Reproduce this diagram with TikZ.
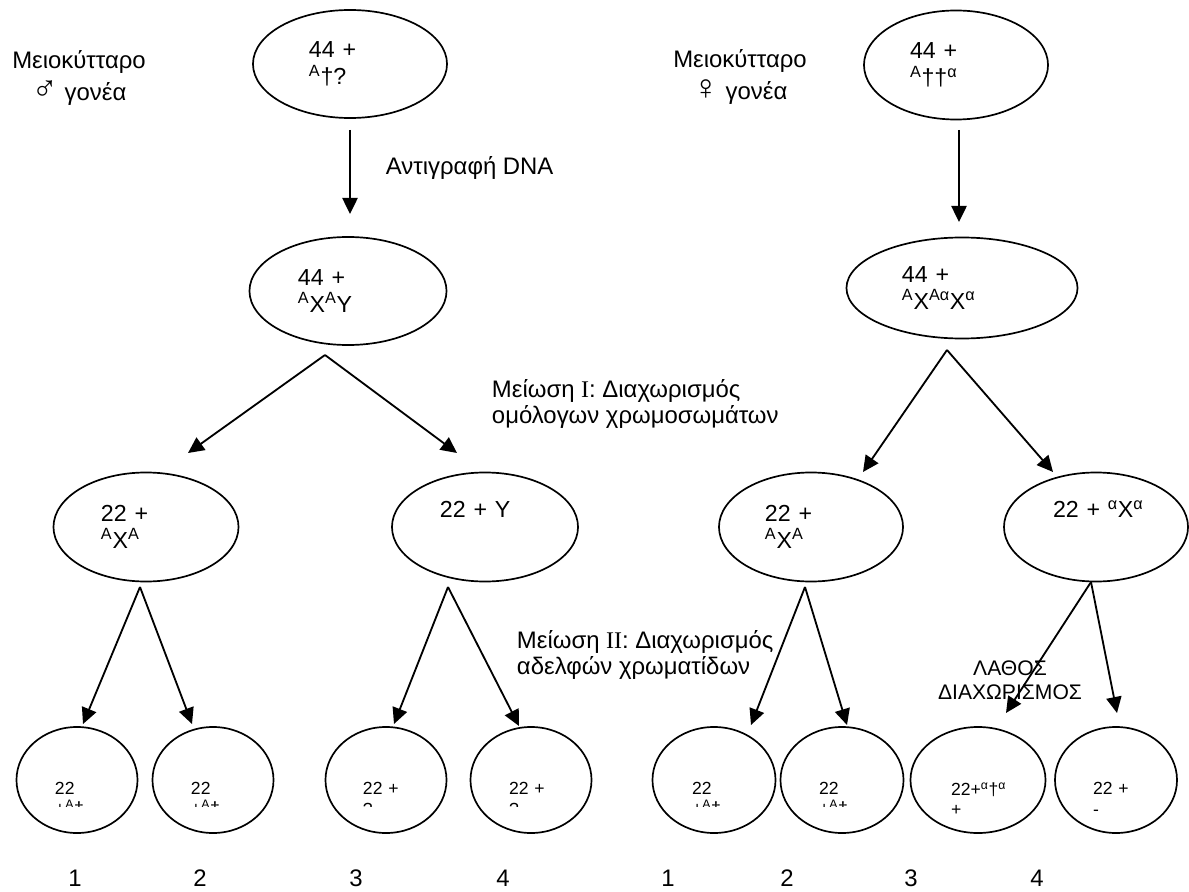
\documentclass[tikz,border=0pt]{standalone}
\usepackage{fontspec}
\setmainfont{Liberation Sans}
\newfontfamily\romanfont{Liberation Serif}
\usetikzlibrary{shapes.geometric,arrows.meta}

\newcommand{\up}[1]{\textsuperscript{#1}}
\newcommand{\sexsym}[1]{{\fontsize{25}{23}\selectfont #1}}

\tikzset{
  cell/.style={draw, ellipse, line width=1.2pt, inner sep=0pt, align=left,
    font=\fontsize{16.5}{19.5}\selectfont},
  gamete/.style={draw, ellipse, line width=1.2pt, inner sep=0pt,
    minimum width=3.025cm, minimum height=2.65cm},
  gtext/.style={inner sep=0pt, align=left, font=\fontsize{12.5}{14.5}\selectfont},
  lab/.style={align=center, font=\fontsize{17}{23}\selectfont},
  note/.style={align=left, anchor=west, font=\fontsize{17}{18}\selectfont},
  link/.style={->, line width=1.3pt},
  >={Triangle[length=0.4cm,width=0.38cm]}
}

\begin{document}
\begin{tikzpicture}[x=0.025cm, y=-0.025cm]
  \useasboundingbox (0,0) rectangle (1189,892);

  % parents
  \node[lab] (parm) at (79,78) {Μειοκύτταρο\\\sexsym{♂} γονέα};
  \node[lab] (parf) at (740,77) {Μειοκύτταρο\\\sexsym{♀} γονέα};
  \node[cell, minimum width=4.85cm, minimum height=2.7cm, text width=2.05cm] (m1) at (350,64) {44 +\\\up{A}†?};
  \node[cell, minimum width=4.6cm, minimum height=2.725cm, text width=2.3cm] (f1) at (956,65) {44 +\\\up{A}††\up{α}};

  % after replication
  \node[cell, minimum width=4.925cm, minimum height=2.7cm, text width=2.5cm] (m2) at (348,291) {44 +\\\up{A}X\up{A}Y};
  \node[cell, minimum width=5.775cm, minimum height=2.525cm, text width=3cm] (f2) at (962,288) {44 +\\\up{A}X\up{Aα}X\up{α}};

  % meiosis I
  \node[cell, minimum width=4.625cm, minimum height=2.725cm, text width=2.25cm] (m3a) at (146,527) {22 +\\\up{A}X\up{A}};
  \node[cell, minimum width=4.65cm, minimum height=2.725cm, text width=2.25cm] (m3b) at (485,527) {22 + Y\\\strut};
  \node[cell, minimum width=4.6cm, minimum height=2.725cm, text width=2.3cm] (f3a) at (811,527) {22 +\\\up{A}X\up{A}};
  \node[cell, minimum width=4.6cm, minimum height=2.725cm, text width=2.15cm] (f3b) at (1096,527) {\mbox{22 + \up{α}X\up{α}}\\\strut};

  % gametes
  \node[gamete] (g1) at (77,780) {};
  \node[gamete] (g2) at (213,780) {};
  \node[gamete] (g3) at (386,780) {};
  \node[gamete] (g4) at (531,780) {};
  \node[gamete, minimum width=3.075cm] (h1) at (714,780) {};
  \node[gamete, minimum width=3.075cm] (h2) at (842,780) {};
  \node[gamete, minimum width=3.375cm] (h3) at (978,780) {};
  \node[gamete, minimum width=3.05cm] (h4) at (1116,780) {};

  \begin{scope}
    \clip (0,0) rectangle (1189,806);
    \node[gtext, text width=1.1cm] (tg1) at (77,799) {22\\+\up{A}†};
    \node[gtext, text width=1.1cm] (tg2) at (213,799) {22\\+\up{A}†};
    \node[gtext, text width=1.15cm] (tg3) at (386,799) {22 +\\?};
    \node[gtext, text width=1.1cm] (tg4) at (531,799) {22 +\\?};
    \node[gtext, text width=1.1cm] (th1) at (714,799) {22\\+\up{A}†};
    \node[gtext, text width=1.15cm] (th2) at (842,799) {22\\+\up{A}†};
  \end{scope}
  \node[gtext, text width=1.35cm] (th3) at (978,799) {22+\up{α}†\up{α}\\+};
  \node[gtext, text width=1.15cm] (th4) at (1116,799) {22 +\\-};

  % numbers
  \node[lab] (n1) at (75,878) {1};
  \node[lab] (n2) at (200,878) {2};
  \node[lab] (n3) at (356,878) {3};
  \node[lab] (n4) at (503,878) {4};
  \node[lab] (k1) at (668,878) {1};
  \node[lab] (k2) at (787,878) {2};
  \node[lab] (k3) at (911,878) {3};
  \node[lab] (k4) at (1037,878) {4};

  % labels
  \node[note] (dna) at (381,168) {Αντιγραφή DNA};
  \node[note] (mei1) at (487,404) {Μείωση {\romanfont I}: Διαχωρισμός\\ομόλογων χρωμοσωμάτων};
  \node[note] (mei2) at (512,655) {Μείωση {\romanfont II}: Διαχωρισμός\\αδελφών χρωματίδων};
  \node[align=center, font=\fontsize{15}{17}\selectfont] (err) at (1010,680) {ΛΑΘΟΣ\\ΔΙΑΧΩΡΙΣΜΟΣ};

  % split points and arrow ends
  \coordinate (m1out) at (350,130);
  \coordinate (m2in) at (350,214);
  \coordinate (f1out) at (959,130);
  \coordinate (f2in) at (959,222);
  \coordinate (m2out) at (325,355);
  \coordinate (m3ain) at (188,453);
  \coordinate (m3bin) at (457,453);
  \coordinate (f2out) at (947,350);
  \coordinate (f3ain) at (863,472);
  \coordinate (f3bin) at (1053,472);
  \coordinate (m3aout) at (140,587);
  \coordinate (m3bout) at (448,587);
  \coordinate (f3aout) at (805,587);
  \coordinate (f3bout) at (1091,582);
  \coordinate (g1in) at (83,724);
  \coordinate (g2in) at (192,724);
  \coordinate (g3in) at (394,724);
  \coordinate (g4in) at (519,726);
  \coordinate (h1in) at (751,725);
  \coordinate (h2in) at (847,725);
  \coordinate (h3in) at (1006,713);
  \coordinate (h4in) at (1117,713);

  \draw[link] (m1out) -- (m2in);
  \draw[link] (f1out) -- (f2in);
  \draw[link] (m2out) -- (m3ain);
  \draw[link] (m2out) -- (m3bin);
  \draw[link] (f2out) -- (f3ain);
  \draw[link] (f2out) -- (f3bin);
  \draw[link] (m3aout) -- (g1in);
  \draw[link] (m3aout) -- (g2in);
  \draw[link] (m3bout) -- (g3in);
  \draw[link] (m3bout) -- (g4in);
  \draw[link] (f3aout) -- (h1in);
  \draw[link] (f3aout) -- (h2in);
  \draw[link] (f3bout) -- (h3in);
  \draw[link] (f3bout) -- (h4in);
\end{tikzpicture}
\end{document}
